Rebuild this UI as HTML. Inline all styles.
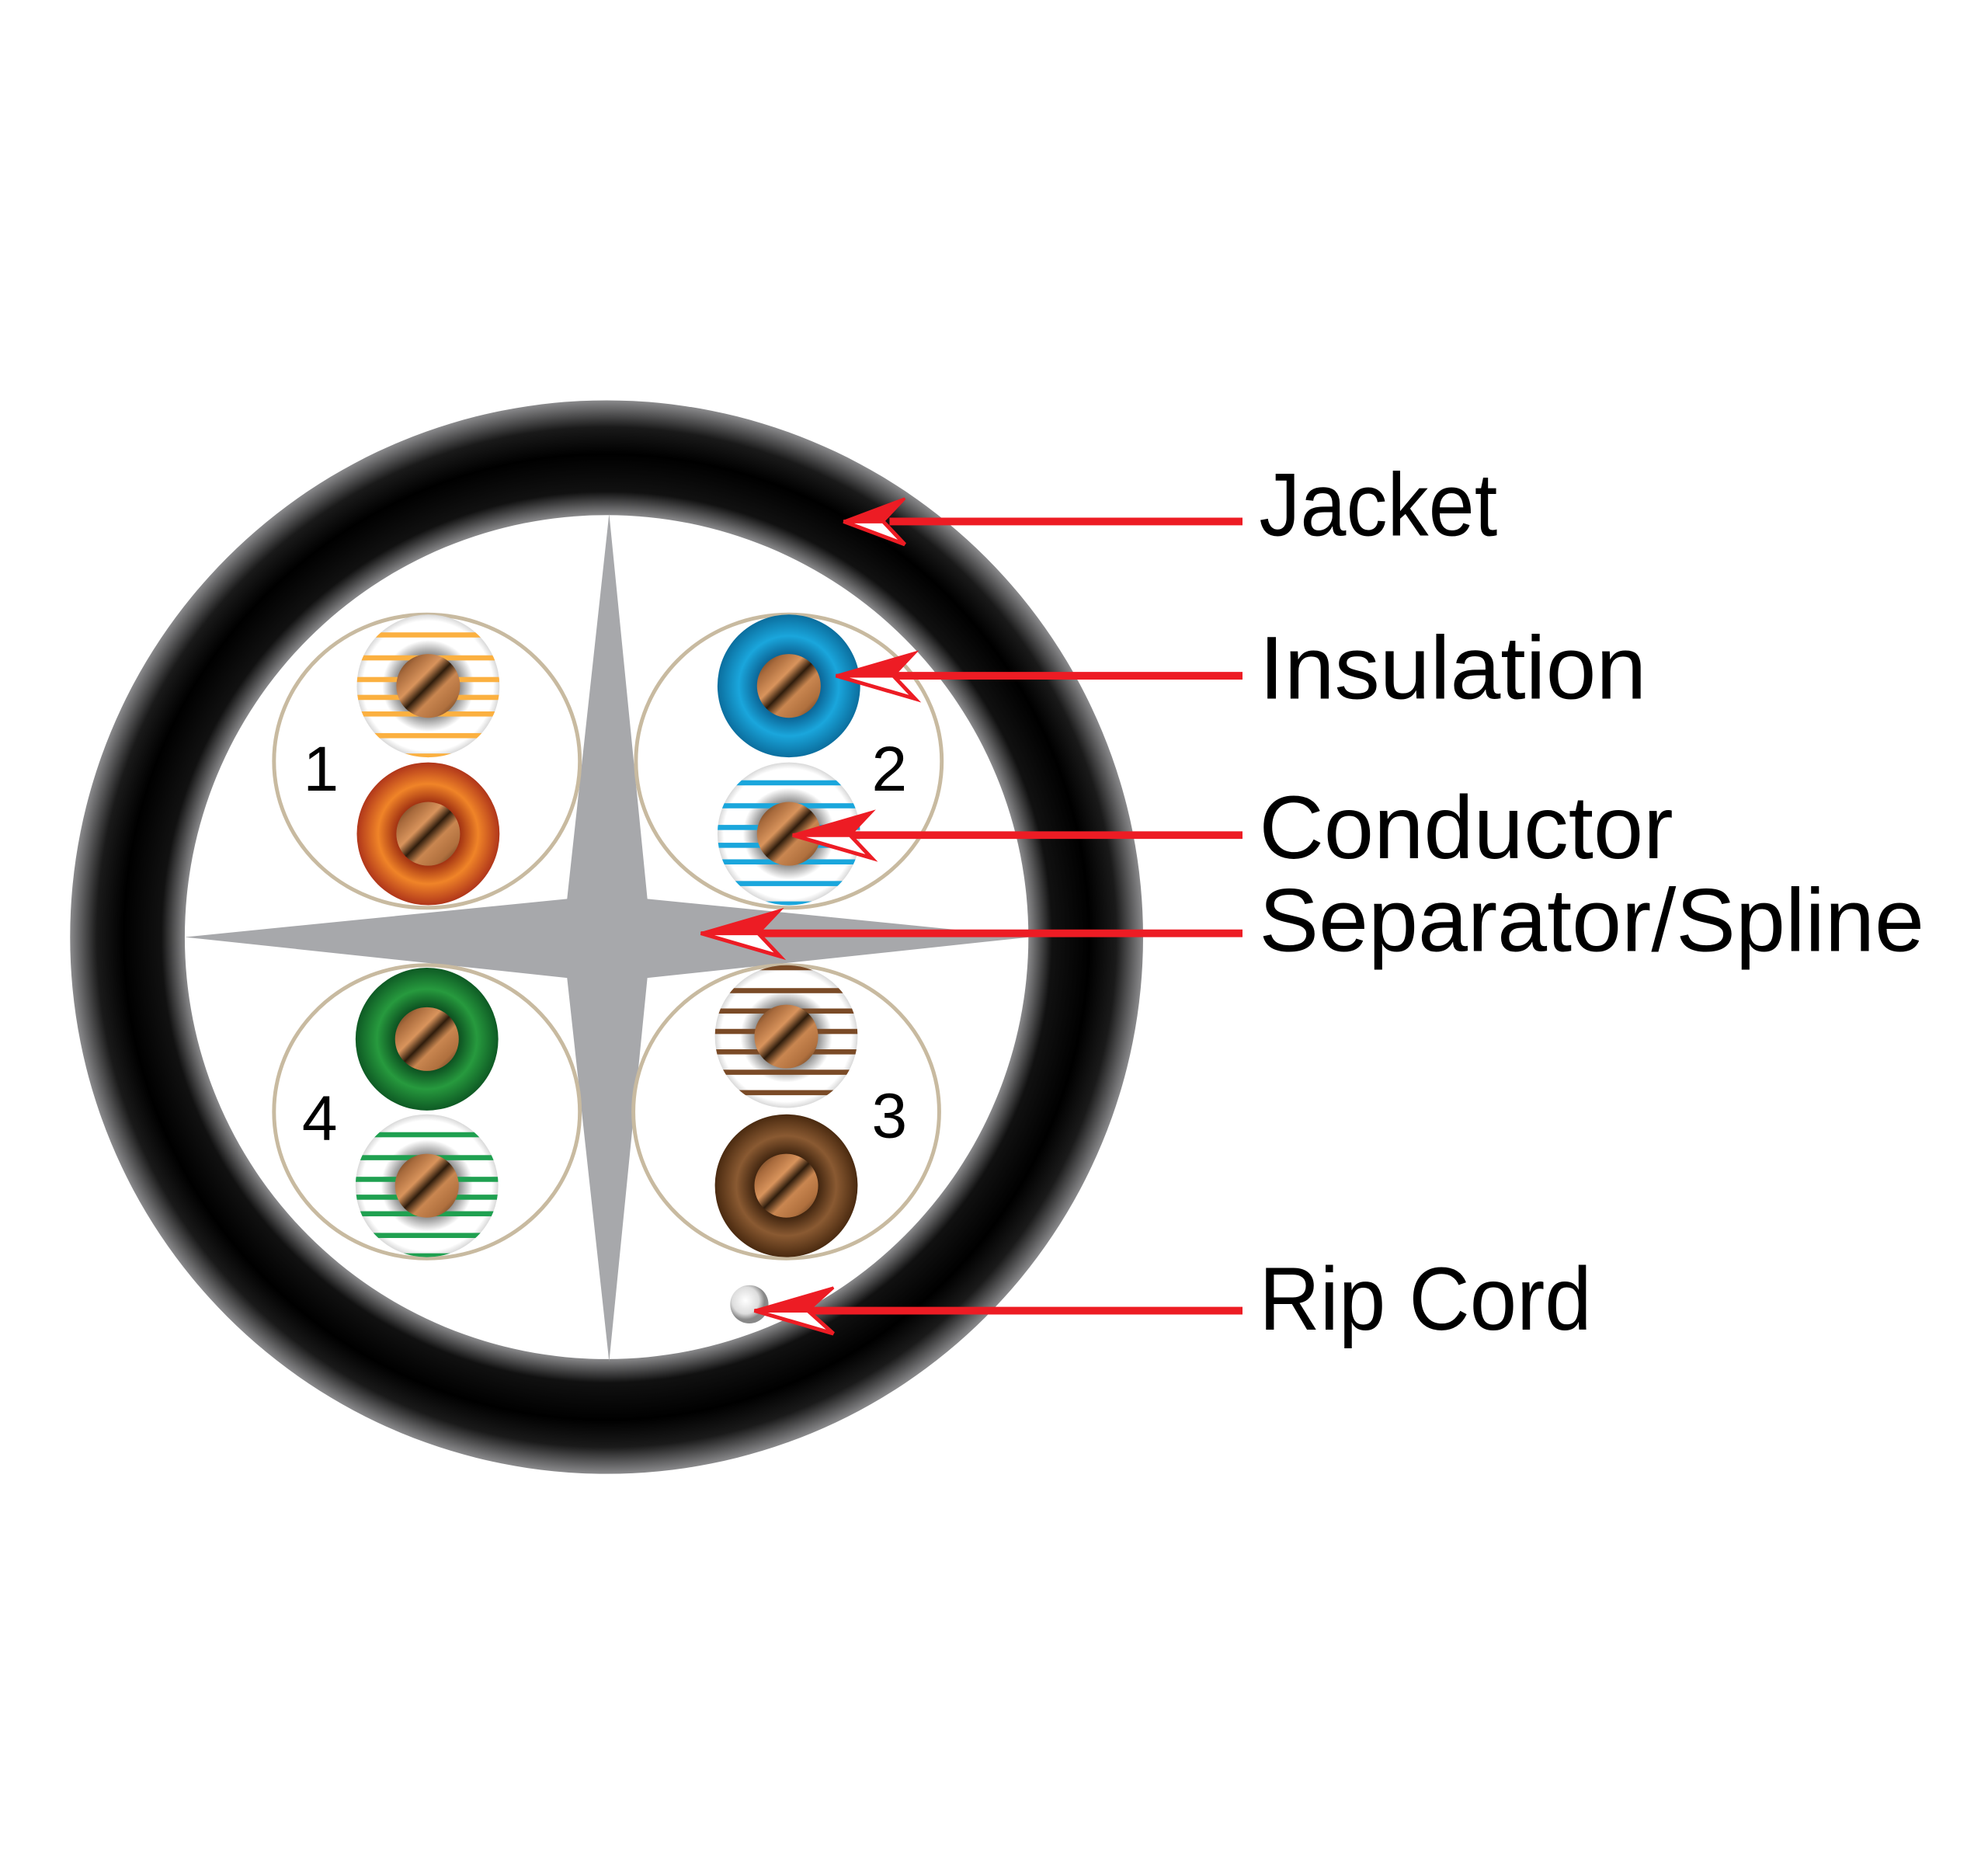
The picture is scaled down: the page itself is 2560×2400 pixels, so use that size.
<!DOCTYPE html>
<html><head><meta charset="utf-8"><style>html,body{margin:0;padding:0;background:#fff}svg{display:block}</style></head>
<body>
<svg width="2560" height="2400" viewBox="0 0 1560 1462" preserveAspectRatio="none" xmlns="http://www.w3.org/2000/svg">
<defs>
<radialGradient id="jk" cx="476" cy="735" r="421" gradientUnits="userSpaceOnUse">
<stop offset="0.78" stop-color="#9a9a9c"/>
<stop offset="0.83" stop-color="#111"/>
<stop offset="0.9" stop-color="#000"/>
<stop offset="0.95" stop-color="#1a1a1a"/>
<stop offset="1" stop-color="#8a8a8c"/>
</radialGradient>
<linearGradient id="cu" x1="0" y1="0" x2="1" y2="1">
<stop offset="0" stop-color="#3a2410"/>
<stop offset="0.2" stop-color="#a86a3c"/>
<stop offset="0.38" stop-color="#d9945c"/>
<stop offset="0.5" stop-color="#2e1c0c"/>
<stop offset="0.62" stop-color="#c98650"/>
<stop offset="0.8" stop-color="#b0703e"/>
<stop offset="1" stop-color="#3a2410"/>
</linearGradient>
<radialGradient id="wh"><stop offset="0.4" stop-color="#888"/><stop offset="0.6" stop-color="#fff"/><stop offset="0.85" stop-color="#fff"/><stop offset="1" stop-color="#bbb"/></radialGradient>
<radialGradient id="or"><stop offset="0.42" stop-color="#9a2a10"/><stop offset="0.7" stop-color="#f08428"/><stop offset="1" stop-color="#b0361a"/></radialGradient>
<radialGradient id="bl"><stop offset="0.42" stop-color="#0a5f90"/><stop offset="0.7" stop-color="#1aa6dc"/><stop offset="1" stop-color="#0b6e9e"/></radialGradient>
<radialGradient id="gr"><stop offset="0.42" stop-color="#0a4a1e"/><stop offset="0.7" stop-color="#279a3e"/><stop offset="1" stop-color="#0e5a24"/></radialGradient>
<radialGradient id="br"><stop offset="0.42" stop-color="#3a200c"/><stop offset="0.7" stop-color="#8a5a32"/><stop offset="1" stop-color="#4a2a10"/></radialGradient>
<radialGradient id="rc" cx="0.4" cy="0.4"><stop offset="0" stop-color="#fff"/><stop offset="0.7" stop-color="#ddd"/><stop offset="1" stop-color="#888"/></radialGradient>
<clipPath id="wc"><circle cx="0" cy="0" r="56"/></clipPath>
<g id="cond"><circle r="25" fill="url(#cu)"/></g>
<g id="stripes" clip-path="url(#wc)">
<rect x="-60" y="-60" width="120" height="120" fill="url(#wh)"/>
</g>
</defs>
<rect width="1560" height="1462" fill="#fff"/>
<circle cx="476" cy="735" r="421" fill="url(#jk)"/>
<circle cx="476" cy="735" r="331" fill="#fff"/>
<polygon points="478,403 508,705 808,735 508,767 478,1068 445,767 145,735 445,705" fill="#a7a8ab"/>
<g fill="#fff" stroke="#c8baa0" stroke-width="3">
<ellipse cx="335" cy="597" rx="120" ry="115"/>
<ellipse cx="619" cy="597" rx="120" ry="115"/>
<ellipse cx="335" cy="872" rx="120" ry="115"/>
<ellipse cx="617" cy="872" rx="120" ry="115"/>
</g>
<circle cx="336" cy="654" r="56" fill="url(#or)"/><use href="#cond" x="336" y="654"/>
<circle cx="619" cy="538" r="56" fill="url(#bl)"/><use href="#cond" x="619" y="538"/>
<circle cx="335" cy="815" r="56" fill="url(#gr)"/><use href="#cond" x="335" y="815"/>
<circle cx="617" cy="930" r="56" fill="url(#br)"/><use href="#cond" x="617" y="930"/>
<g transform="translate(336,538)"><use href="#stripes"/><g clip-path="url(#wc)" fill="#fbb040"><rect x="-60" y="-42" width="120" height="4"/><rect x="-60" y="-24" width="120" height="4"/><rect x="-60" y="-7" width="120" height="4"/><rect x="-60" y="7" width="120" height="4"/><rect x="-60" y="20" width="120" height="4"/><rect x="-60" y="37" width="120" height="4"/><rect x="-60" y="53" width="120" height="4"/></g><use href="#cond"/></g>
<g transform="translate(619,654)"><use href="#stripes"/><g clip-path="url(#wc)" fill="#1aa6dc"><rect x="-60" y="-42" width="120" height="4"/><rect x="-60" y="-24" width="120" height="4"/><rect x="-60" y="-7" width="120" height="4"/><rect x="-60" y="7" width="120" height="4"/><rect x="-60" y="20" width="120" height="4"/><rect x="-60" y="37" width="120" height="4"/><rect x="-60" y="53" width="120" height="4"/></g><use href="#cond"/></g>
<g transform="translate(335,930)"><use href="#stripes"/><g clip-path="url(#wc)" fill="#1fa050"><rect x="-60" y="-42" width="120" height="4"/><rect x="-60" y="-24" width="120" height="4"/><rect x="-60" y="-7" width="120" height="4"/><rect x="-60" y="7" width="120" height="4"/><rect x="-60" y="20" width="120" height="4"/><rect x="-60" y="37" width="120" height="4"/><rect x="-60" y="53" width="120" height="4"/></g><use href="#cond"/></g>
<g transform="translate(617,813)"><use href="#stripes"/><g clip-path="url(#wc)" fill="#7a4a26"><rect x="-60" y="-56" width="120" height="4"/><rect x="-60" y="-38" width="120" height="4"/><rect x="-60" y="-22" width="120" height="4"/><rect x="-60" y="-6" width="120" height="4"/><rect x="-60" y="10" width="120" height="4"/><rect x="-60" y="26" width="120" height="4"/><rect x="-60" y="42" width="120" height="4"/></g><use href="#cond"/></g>
<circle cx="588" cy="1023" r="15" fill="url(#rc)"/>
<g font-family="'Liberation Sans', sans-serif" fill="#000" font-size="50">
<text x="238" y="620">1</text><text x="684" y="620">2</text>
<text x="237" y="894">4</text><text x="684" y="892">3</text>
</g>
<g stroke="#ed1c24">
<g transform="translate(662,409)"><line x1="36" y1="0" x2="313" y2="0" stroke-width="6"/><polygon points="0,0 48,-18 31,0" fill="#ed1c24" stroke-width="2"/><polygon points="0,0 48,18 31,0" fill="#fff" stroke-width="3"/></g>
<g transform="translate(656,530)"><line x1="36" y1="0" x2="319" y2="0" stroke-width="6"/><polygon points="0,0 62,-18 45,0" fill="#ed1c24" stroke-width="2"/><polygon points="0,0 62,18 45,0" fill="#fff" stroke-width="3"/></g>
<g transform="translate(622,655)"><line x1="36" y1="0" x2="353" y2="0" stroke-width="6"/><polygon points="0,0 62,-18 45,0" fill="#ed1c24" stroke-width="2"/><polygon points="0,0 62,18 45,0" fill="#fff" stroke-width="3"/></g>
<g transform="translate(550,732)"><line x1="36" y1="0" x2="425" y2="0" stroke-width="6"/><polygon points="0,0 62,-18 45,0" fill="#ed1c24" stroke-width="2"/><polygon points="0,0 62,18 45,0" fill="#fff" stroke-width="3"/></g>
<g transform="translate(592,1028)"><line x1="36" y1="0" x2="383" y2="0" stroke-width="6"/><polygon points="0,0 62,-18 42,0" fill="#ed1c24" stroke-width="2"/><polygon points="0,0 62,18 42,0" fill="#fff" stroke-width="3"/></g>
</g>
<g font-family="'Liberation Sans', sans-serif" fill="#000" font-size="70">
<text x="988" y="420" textLength="187" lengthAdjust="spacingAndGlyphs">Jacket</text>
<text x="988" y="548" textLength="304" lengthAdjust="spacingAndGlyphs">Insulation</text>
<text x="988" y="673" textLength="325" lengthAdjust="spacingAndGlyphs">Conductor</text>
<text x="988" y="746" textLength="522" lengthAdjust="spacingAndGlyphs">Separator/Spline</text>
<text x="988" y="1043" textLength="261" lengthAdjust="spacingAndGlyphs">Rip Cord</text>
</g>
</svg>
</body></html>
